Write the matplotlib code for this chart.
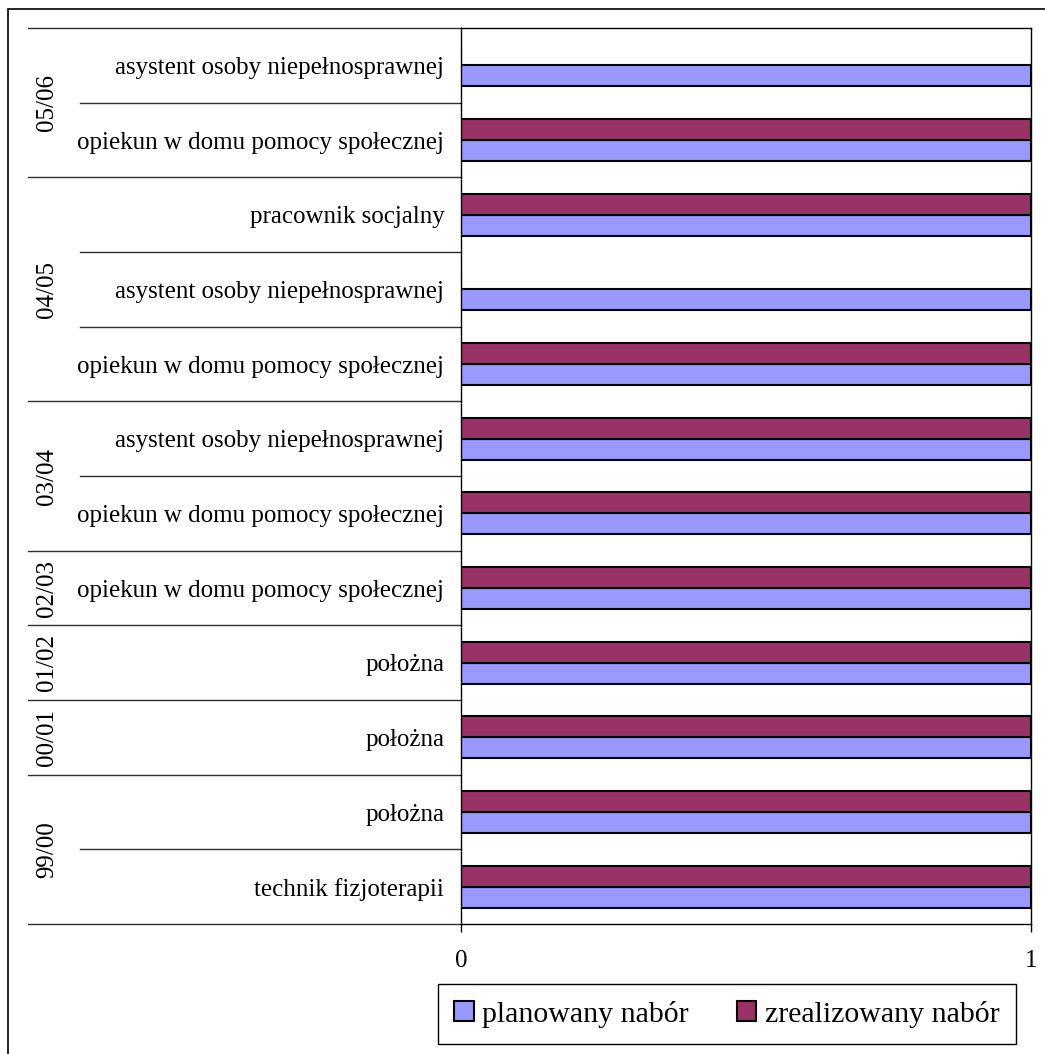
import numpy as np
import matplotlib
matplotlib.use("Agg")
import matplotlib.pyplot as plt
from matplotlib.patches import Rectangle
from matplotlib.transforms import blended_transform_factory

plt.rcParams['font.family'] = ['Liberation Serif', 'DejaVu Serif']

# Data, listed top to bottom as in the chart
groups = ["05/06", "04/05", "03/04", "02/03", "01/02", "00/01", "99/00"]
group_sizes = [2, 3, 2, 1, 1, 1, 2]
categories = [
    "asystent osoby niepełnosprawnej",
    "opiekun w domu pomocy społecznej",
    "pracownik socjalny",
    "asystent osoby niepełnosprawnej",
    "opiekun w domu pomocy społecznej",
    "asystent osoby niepełnosprawnej",
    "opiekun w domu pomocy społecznej",
    "opiekun w domu pomocy społecznej",
    "położna",
    "położna",
    "położna",
    "technik fizjoterapii",
]
planowany = [1, 1, 1, 1, 1, 1, 1, 1, 1, 1, 1, 1]
zrealizowany = [0, 1, 1, 0, 1, 1, 1, 1, 1, 1, 1, 1]

W, H = 1045, 1054
fig = plt.figure(figsize=(W / 100, H / 100), dpi=100)

# plot area in pixel coordinates
left, right, top, bottom = 461, 1031, 28, 924
ax = fig.add_axes([left / W, 1 - bottom / H, (right - left) / W, (bottom - top) / H])

n = len(categories)
y = np.arange(n)[::-1]  # top category gets highest y
bh = 0.28
ax.barh(y - bh / 2, planowany, height=bh, color="#9999FF", edgecolor="black", linewidth=1.5)
ax.barh(y + bh / 2, zrealizowany, height=bh, color="#993366", edgecolor="black", linewidth=1.5)

ax.set_xlim(0, 1)
ax.set_ylim(-0.5, n - 0.5)
ax.set_xticks([0, 1])
ax.set_xticklabels(["0", "1"], fontsize=18)
ax.tick_params(axis="x", direction="out", length=6, width=1, pad=13)
ax.set_yticks(y)
ax.set_yticklabels(categories, fontsize=18)
ax.tick_params(axis="y", length=0, pad=12)
for s in ax.spines.values():
    s.set_linewidth(1)
    s.set_color("black")

# category separators and group labels
trans = blended_transform_factory(ax.transAxes, ax.transData)
x_inner = (80 - left) / (right - left)
x_outer = (28 - left) / (right - left)
x_grp = (47 - left) / (right - left)
boundaries = set(np.cumsum([0] + group_sizes))
for k in range(n + 1):
    yy = n - 0.5 - k
    x0 = x_outer if k in boundaries else x_inner
    ax.plot([x0, 0], [yy, yy], color="#303030", lw=1, transform=trans, clip_on=False)

start = 0
for g, sz in zip(groups, group_sizes):
    yc = n - 0.5 - start - sz / 2
    ax.text(x_grp, yc, g, rotation=90, ha="center", va="center", fontsize=18,
            transform=trans)
    start += sz

# legend
handles = [Rectangle((0, 0), 1, 1, facecolor="#9999FF", edgecolor="black", lw=1.5),
           Rectangle((0, 0), 1, 1, facecolor="#993366", edgecolor="black", lw=1.5)]
leg = fig.legend(handles, ["planowany nabór", "zrealizowany nabór"], ncol=2,
                 loc="center", bbox_to_anchor=(727 / W, 1 - 1014 / H),
                 fontsize=21.5, frameon=True, fancybox=False, framealpha=1,
                 handlelength=0.65, handleheight=0.65, handletextpad=0.3,
                 columnspacing=1.6, borderpad=0.55, borderaxespad=0)
leg.get_frame().set_edgecolor("black")
leg.get_frame().set_linewidth(1)

# outer chart border (top and left visible)
fig.patches.append(Rectangle((8 / W, -0.1), 1.2, 1 - 9 / H + 0.1, transform=fig.transFigure,
                             fill=False, edgecolor="black", lw=1.2))

fig.savefig("out.png", dpi=100)
